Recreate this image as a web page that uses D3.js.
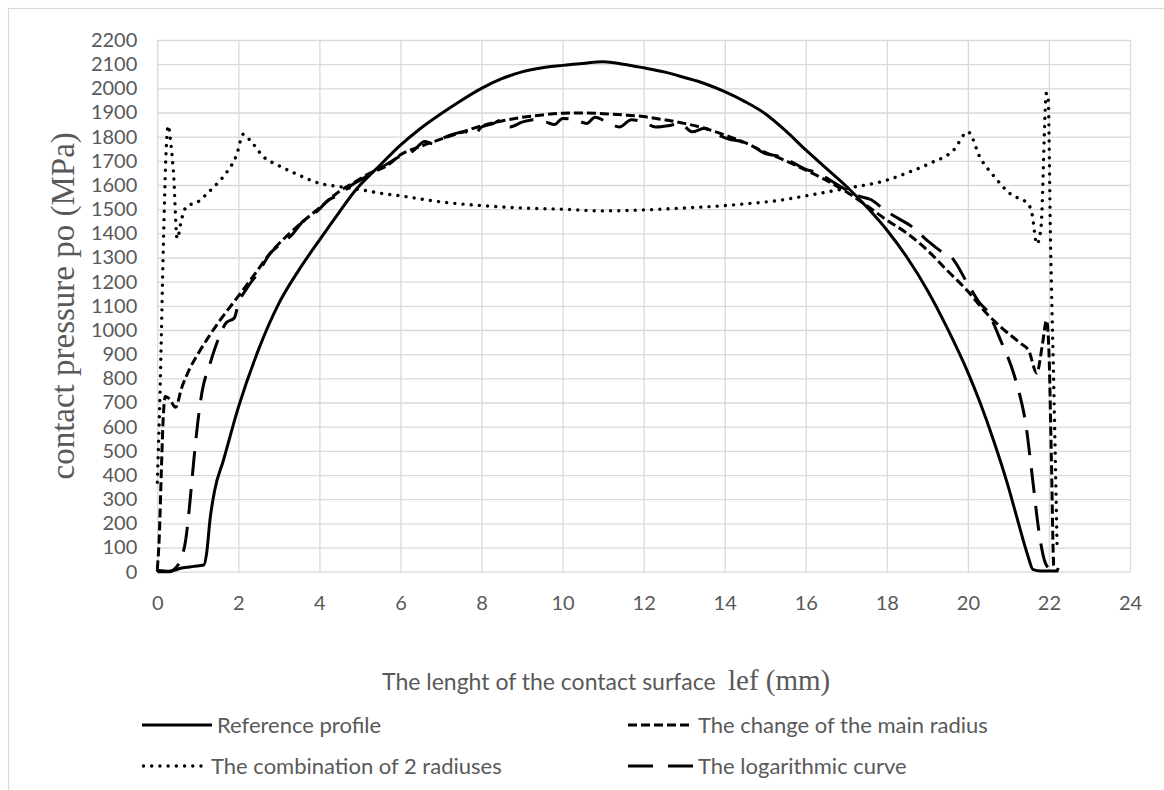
<!DOCTYPE html>
<html>
<head>
<meta charset="utf-8">
<script src="https://cdn.jsdelivr.net/npm/d3@7"></script>
<style>
  html, body { margin: 0; padding: 0; background: #fff; }
  svg { display: block; }
</style>
</head>
<body>
<svg id="chart" width="1164" height="790"></svg>
<script>
// ---------- data ----------
const xTickValues = [0, 2, 4, 6, 8, 10, 12, 14, 16, 18, 20, 22, 24];
const yTickValues = [0, 100, 200, 300, 400, 500, 600, 700, 800, 900, 1000, 1100,
  1200, 1300, 1400, 1500, 1600, 1700, 1800, 1900, 2000, 2100, 2200];

const seriesNames = ["Reference profile", "The change of the main radius",
  "The combination of 2 radiuses", "The logarithmic curve"];

// Reference profile (solid)
const refX = [0, 0.3, 0.6, 0.9, 1.15, 1.22, 1.3, 1.42, 1.63, 2.0, 2.5, 3.0, 3.5, 4.0,
  4.5, 4.85, 5.5, 6.0, 6.5, 7.0, 7.5, 8.0, 8.5, 9.0, 9.5, 10.0, 10.5, 11.0, 11.5, 12.0, 12.5,
  13.0, 13.5, 14.0, 14.5, 15.0, 15.5, 16.0, 16.5, 17.0, 17.5, 18.0, 18.5, 19.0, 19.5, 20.0,
  20.3, 20.63, 21.0, 21.2, 21.4, 21.5, 21.6, 21.8, 22.0, 22.2];
const refY = [5, 2, 15, 22, 28, 80, 215, 340, 460, 680, 920, 1110, 1250, 1372,
  1490, 1570, 1683, 1765, 1835, 1895, 1950, 2000, 2040, 2068, 2085, 2095, 2103, 2110, 2100, 2085, 2068,
  2045, 2020, 1986, 1945, 1895, 1825, 1745, 1670, 1595, 1510, 1414, 1300, 1165, 1005, 825,
  700, 545, 350, 230, 110, 55, 10, 3, 3, 3];

// The change of the main radius (short dash)
const radX = [0, 0.05, 0.1, 0.15, 0.2, 0.3, 0.45, 0.6, 0.8, 1.0, 1.3, 1.55, 2.0, 2.4, 2.78, 3.2,
  3.6, 4.0, 4.5, 4.85, 5.2, 5.67, 6.0, 6.5, 7.0, 7.5, 8.0, 8.5, 9.0, 9.5, 10.0, 10.5, 11.0,
  11.5, 12.0, 12.5, 13.0, 13.5, 14.0, 14.5, 15.0, 15.37, 16.0, 16.5, 17.0, 17.5, 18.0, 18.5,
  19.0, 19.48, 20.0, 20.4, 20.8, 21.29, 21.5, 21.7, 21.84, 21.94, 22.0, 22.06, 22.12, 22.25];
const radY = [10, 150, 420, 650, 725, 715, 680, 760, 840, 900, 980, 1041, 1140, 1230, 1317, 1390,
  1450, 1505, 1575, 1610, 1645, 1680, 1725, 1760, 1790, 1818, 1845, 1865, 1880, 1890, 1897, 1898, 1895,
  1890, 1883, 1870, 1855, 1835, 1807, 1775, 1735, 1710, 1662, 1620, 1572, 1515, 1455, 1400,
  1330, 1248, 1160, 1080, 1014, 946, 915, 822, 941, 1040, 911, 470, 25, 7];

// The combination of 2 radiuses (dotted)
const combX = [0, 0.07, 0.15, 0.22, 0.27, 0.33, 0.4, 0.49, 0.6, 0.72, 1.0, 1.22, 1.5, 1.71, 1.96,
  2.12, 2.29, 2.62, 3.0, 3.44, 4.0, 4.5, 5.08, 5.5, 6, 7, 8, 9, 10, 11, 12, 13, 14, 14.5, 15.37,
  16, 17, 18, 18.5, 19.07, 19.65, 20.0, 20.31, 20.64, 21.05, 21.5, 21.59, 21.7, 21.8, 21.94,
  21.98, 22.04, 22.12, 22.2];
const combY = [370, 760, 1350, 1750, 1845, 1780, 1650, 1378, 1459, 1511, 1530, 1563, 1610, 1652, 1726,
  1810, 1785, 1717, 1680, 1645, 1607, 1593, 1579, 1566, 1555, 1530, 1515, 1505, 1500, 1493, 1497,
  1505, 1515, 1522, 1537, 1555, 1586, 1620, 1650, 1690, 1745, 1820, 1711, 1637, 1563, 1519,
  1474, 1356, 1415, 1980, 1960, 1356, 763, 111];

// The logarithmic curve (long dash)
const logX = [0, 0.3, 0.45, 0.6, 0.7, 0.8, 0.9, 1.0, 1.1, 1.3, 1.5, 1.7, 1.9, 2.0, 2.2, 2.5, 2.8,
  3.0, 3.3, 3.6, 3.8, 4.0, 4.2, 4.5, 4.8, 5.0, 5.4, 5.7, 6.0, 6.3, 6.6, 6.8, 7.0, 7.3, 7.6, 7.8,
  8.0, 8.3, 8.5, 8.7, 9.0, 9.3, 9.6, 9.8, 10.0, 10.3, 10.6, 10.8, 11.1, 11.4, 11.7, 12.0, 12.3,
  12.6, 12.9, 13.2, 13.5, 13.8, 14.1, 14.4, 14.7, 15.0, 15.3, 15.6, 16.0, 16.3, 16.6, 17.0,
  17.3, 17.6, 18.0, 18.3, 18.6, 19.0, 19.3, 19.6, 20.0, 20.3, 20.47, 20.8, 21.13, 21.29, 21.42,
  21.59, 21.75, 21.88, 22.0, 22.2];
const logY = [0, 0, 15, 60, 130, 280, 460, 620, 740, 860, 960, 1030, 1050, 1110, 1170, 1240, 1320,
  1350, 1390, 1450, 1470, 1500, 1535, 1560, 1600, 1620, 1660, 1690, 1720, 1740, 1780, 1770, 1790,
  1810, 1820, 1805, 1840, 1855, 1870, 1840, 1860, 1870, 1860, 1850, 1875, 1870, 1855, 1880, 1860,
  1840, 1870, 1860, 1840, 1845, 1855, 1820, 1835, 1810, 1790, 1780, 1760, 1730, 1720, 1700, 1665,
  1650, 1620, 1580, 1555, 1540, 1490, 1460, 1430, 1370, 1330, 1300, 1190, 1110, 1080, 960, 820,
  724, 620, 393, 170, 52, 15, 7];

// ---------- layout ----------
const svg = d3.select("#chart");
const plotLeft = 157.3, plotRight = 1130, plotTop = 40, plotBottom = 571.7;
const textGray = "#595959", gridGray = "#d9d9d9";
const sansFont = "Lato, 'Open Sans', sans-serif";
const serifFont = "'Liberation Serif', 'DejaVu Serif', serif";

const x = d3.scaleLinear().domain([0, 24]).range([plotLeft, plotRight]);
const y = d3.scaleLinear().domain([0, 2200]).range([plotBottom, plotTop]);

// outer chart border
svg.append("rect").attr("x", 8.5).attr("y", 8.5).attr("width", 1170).attr("height", 800)
  .attr("fill", "none").attr("stroke", gridGray).attr("stroke-width", 1.2);

// y grid + labels
const yAxis = svg.append("g").attr("transform", `translate(${plotLeft},0)`)
  .call(d3.axisLeft(y).tickValues(yTickValues).tickSize(-(plotRight - plotLeft)).tickPadding(20)
    .tickFormat(d3.format("d")));
yAxis.select(".domain").remove();
yAxis.selectAll(".tick line").attr("stroke", gridGray).attr("stroke-width", 1.3);
yAxis.selectAll(".tick text").attr("fill", textGray).attr("font-family", sansFont)
  .attr("font-size", 20);

// x grid + labels
const xAxis = svg.append("g").attr("transform", `translate(0,${plotBottom})`)
  .call(d3.axisBottom(x).tickValues(xTickValues).tickSize(-(plotBottom - plotTop)).tickPadding(24)
    .tickFormat(d3.format("d")));
xAxis.select(".domain").remove();
xAxis.selectAll(".tick line").attr("stroke", gridGray).attr("stroke-width", 1.3);
xAxis.selectAll(".tick text").attr("fill", textGray).attr("font-family", sansFont)
  .attr("font-size", 20);

// ---------- series ----------
const styles = [
  { dash: null, cap: "round" },
  { dash: "9,4", cap: "butt" },
  { dash: "0.01,8.2", cap: "round" },
  { dash: "25,13", cap: "butt" }
];
const seriesX = [refX, radX, combX, logX];
const seriesY = [refY, radY, combY, logY];

const line = d3.line().x(d => x(d[0])).y(d => y(d[1])).curve(d3.curveMonotoneX);

const drawOrder = [2, 3, 1, 0];
drawOrder.forEach(i => {
  const pts = seriesX[i].map((v, k) => [v, seriesY[i][k]]);
  svg.append("path").datum(pts)
    .attr("d", line)
    .attr("fill", "none")
    .attr("stroke", "#000")
    .attr("stroke-width", i === 2 ? 3.4 : 3)
    .attr("stroke-linejoin", "round")
    .attr("stroke-linecap", styles[i].cap)
    .attr("stroke-dasharray", styles[i].dash);
});

// ---------- axis titles ----------
svg.append("text")
  .attr("transform", `translate(74,${(plotTop + plotBottom) / 2}) rotate(-90)`)
  .attr("text-anchor", "middle")
  .attr("font-family", serifFont).attr("font-size", 33).attr("fill", textGray)
  .text("contact pressure po (MPa)");

svg.append("text").attr("x", 382).attr("y", 690).attr("fill", textGray)
  .attr("font-family", sansFont).attr("font-size", 23)
  .text("The lenght of the contact surface");
svg.append("text").attr("x", 728).attr("y", 690).attr("fill", textGray)
  .attr("font-family", serifFont).attr("font-size", 29)
  .text("lef (mm)");

// ---------- legend ----------
const legendPos = [
  { lx: 142, lw: 70, ty: 725, idx: 0 },
  { lx: 628, lw: 65, ty: 725, idx: 1 },
  { lx: 142, lw: 64, ty: 766, idx: 2 },
  { lx: 628, lw: 65, ty: 766, idx: 3 }
];
const lg = svg.append("g");
legendPos.forEach(p => {
  lg.append("line")
    .attr("x1", p.lx + (p.idx === 2 ? 1.5 : 0))
    .attr("x2", p.lx + p.lw).attr("y1", p.ty).attr("y2", p.ty)
    .attr("stroke", "#000").attr("stroke-width", p.idx === 2 ? 3.4 : 3.2)
    .attr("stroke-linecap", p.idx === 0 ? "butt" : styles[p.idx].cap)
    .attr("stroke-dasharray", p.idx === 3 ? "25,15" : styles[p.idx].dash);
  lg.append("text")
    .attr("x", p.lx + p.lw + 5).attr("y", p.ty).attr("dy", "0.36em")
    .attr("font-family", sansFont).attr("font-size", 22).attr("fill", textGray)
    .text(seriesNames[p.idx]);
});
</script>
</body>
</html>
